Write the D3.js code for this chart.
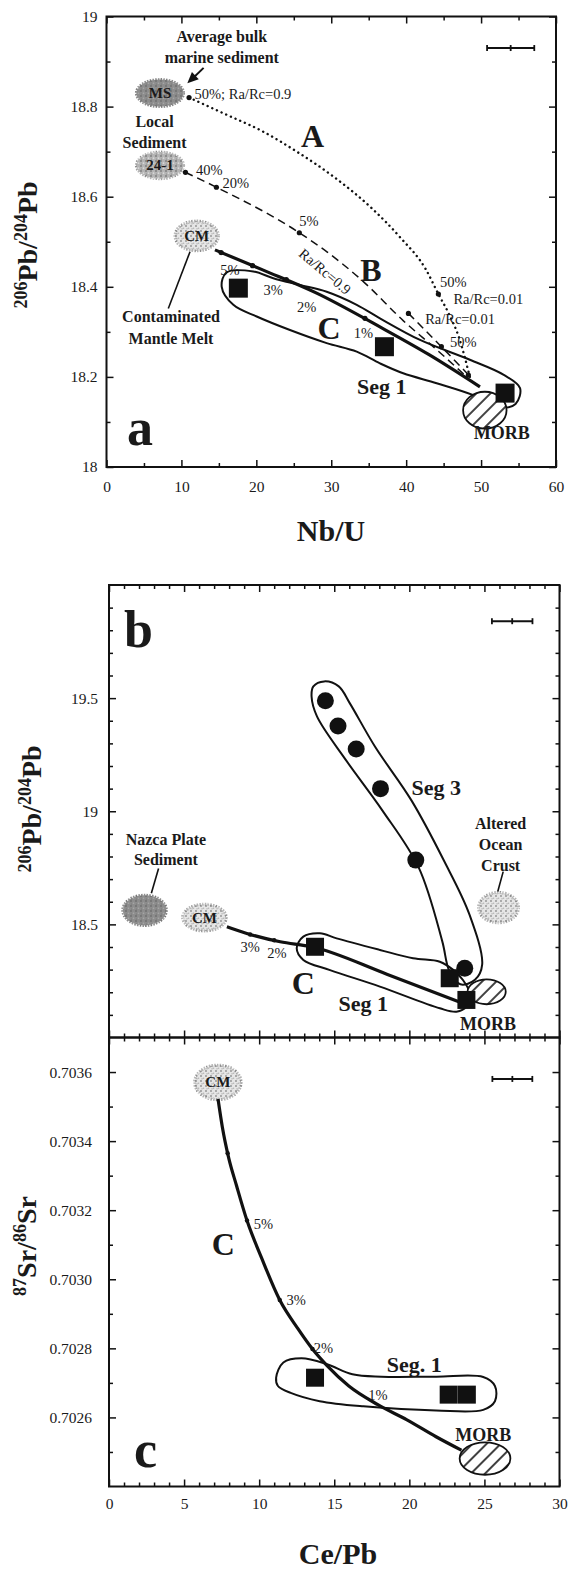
<!DOCTYPE html>
<html>
<head>
<meta charset="utf-8">
<script src="https://cdn.jsdelivr.net/npm/d3@7"></script>
<style>
body { margin: 0; background: #fff; }
text { font-family: "Liberation Serif", "Times New Roman", serif; fill: #1a1a1a; }
.lbl { font-weight: bold; font-size: 16px; }
.fld { font-weight: bold; font-size: 15px; }
.pct { font-size: 14.5px; }
.big { font-weight: bold; font-size: 32px; }
.huge { font-weight: bold; font-size: 52px; }
.seg { font-weight: bold; font-size: 22px; }
.morb { font-weight: bold; font-size: 18px; }
</style>
</head>
<body>
<div class="chart"></div>
<script>
// ---------- panel a : 206Pb/204Pb vs Nb/U ----------
const aXTicks = [0, 10, 20, 30, 40, 50, 60];
const aXMinor = [5, 15, 25, 35, 45, 55];
const aYTicks = [18, 18.2, 18.4, 18.6, 18.8, 19];
const aYLabels = ['18', '18.2', '18.4', '18.6', '18.8', '19'];
const aYMinor = [18.1, 18.3, 18.5, 18.7, 18.9];

const aFields = [
    {label: 'MS', x: [3.99, 10.29], y: [18.80, 18.86]},
    {label: '24-1', x: [3.99, 10.29], y: [18.64, 18.699]},
    {label: 'CM', x: [9.14, 14.94], y: [18.48, 18.546]},
    {label: 'MORB', x: [47.6, 53.4], y: [18.085, 18.167]}
];
const aSquares = [[17.6, 18.397], [37.1, 18.267], [53.2, 18.164]];
const aCurveA = [[11.02, 18.82], [15.88, 18.783], [20.73, 18.746], [25.59, 18.698], [30.43, 18.643],
    [35.3, 18.576], [39.18, 18.51], [42.58, 18.44], [44.3, 18.384], [45.7, 18.34], [47.1, 18.285], [48.5, 18.2]];
const aCurveB = [[10.54, 18.654], [14.67, 18.621], [25.74, 18.52], [29.47, 18.477], [34.32, 18.411],
    [39.6, 18.325], [44.1, 18.26], [48.1, 18.2]];
const aCurveB2 = [[40.3, 18.341], [44.7, 18.267], [48.3, 18.205]];
const aCurveC = [[14.48, 18.482], [20.93, 18.437], [28.05, 18.386], [36.5, 18.311], [43, 18.25], [49.85, 18.178]];
const aDots = [[11.02, 18.82], [44.3, 18.384], [10.54, 18.654], [14.67, 18.621], [25.74, 18.52],
    [40.3, 18.341], [44.7, 18.267], [15.3, 18.476], [19.5, 18.447], [24, 18.416], [34.5, 18.33], [48.3, 18.204]];
const aSeg1 = [[15.38, 18.40], [16.04, 18.432], [19.6, 18.434], [22.26, 18.419], [25.83, 18.404], [29.39, 18.389],
    [33.4, 18.36], [36.5, 18.33], [41.85, 18.282], [48.5, 18.238], [52.97, 18.205], [55.2, 18.175],
    [54.6, 18.14], [52.5, 18.132], [48.88, 18.16], [44.07, 18.186], [39.6, 18.208], [36.5, 18.23],
    [33.4, 18.256], [29.39, 18.275], [24.49, 18.304], [20.05, 18.334], [16.93, 18.36]];
const aErrX = [50.8, 57.1], aErrY = 18.93;
const aPointers = [[[11.15, 18.478], [8.25, 18.352]]];
const aArrow = [[12.96, 18.886], [10.79, 18.852]];
const aText = [
    ['Average bulk', 15.39, 18.956, 'lbl'], ['marine sediment', 15.39, 18.908, 'lbl'],
    ['Local', 6.41, 18.768, 'lbl'], ['Sediment', 6.41, 18.72, 'lbl'],
    ['Contaminated', 8.61, 18.334, 'lbl'], ['Mantle Melt', 8.61, 18.286, 'lbl'],
    ['A', 27.52, 18.735, 'big'], ['B', 35.3, 18.437, 'big'], ['C', 29.7, 18.308, 'big'],
    ['a', 4.47, 18.087, 'huge'], ['Seg 1', 36.75, 18.179, 'seg'], ['MORB', 52.77, 18.076, 'morb'],
    ['5%', 27.03, 18.547, 'pct'], ['5%', 16.48, 18.437, 'pct'], ['3%', 22.26, 18.393, 'pct'],
    ['2%', 26.72, 18.355, 'pct'], ['1%', 34.28, 18.297, 'pct'], ['50%', 46.29, 18.411, 'pct'],
    ['Ra/Rc=0.01', 50.96, 18.372, 'pct'], ['Ra/Rc=0.01', 47.19, 18.328, 'pct'], ['50%', 47.63, 18.278, 'pct']
];
const aTextLeft = [['50%; Ra/Rc=0.9', 11.75, 18.827], ['40%', 11.95, 18.659], ['20%', 15.48, 18.63]];
const aRotText = ['Ra/Rc=0.9', 29.17, 18.434];

// ---------- panel b : 206Pb/204Pb vs Ce/Pb ----------
const ceTicks = [0, 5, 10, 15, 20, 25, 30];
const ceMinor = [1, 2, 3, 4, 6, 7, 8, 9, 11, 12, 13, 14, 16, 17, 18, 19, 21, 22, 23, 24, 26, 27, 28, 29];
const bYTicks = [18.5, 19, 19.5];
const bYLabels = ['18.5', '19', '19.5'];
const bYMinor = [18.1, 18.2, 18.3, 18.4, 18.6, 18.7, 18.8, 18.9, 19.1, 19.2, 19.3, 19.4, 19.6, 19.7, 19.8, 19.9];
const bFields = [
    {label: 'Nazca', x: [0.92, 3.82], y: [18.495, 18.629]},
    {label: 'CM', x: [4.91, 7.81], y: [18.471, 18.589]},
    {label: 'AOC', x: [24.61, 27.27], y: [18.507, 18.641]},
    {label: 'MORB', x: [23.88, 26.42], y: [18.147, 18.257]}
];
const bCircles = [[14.41, 19.488], [15.25, 19.377], [16.46, 19.275], [18.08, 19.1], [20.43, 18.784], [23.69, 18.306]];
const bSquares = [[13.72, 18.401], [22.69, 18.262], [23.8, 18.166]];
const bSeg3 = [[14.33, 19.574], [15.3, 19.552], [16.03, 19.478], [17.72, 19.285], [20.14, 19.048], [22.31, 18.781],
    [24.0, 18.544], [24.85, 18.322], [24.37, 18.255], [23.4, 18.235], [22.67, 18.293], [22.19, 18.426],
    [20.62, 18.752], [18.2, 19.004], [15.78, 19.226], [13.85, 19.419], [13.49, 19.507], [13.61, 19.552]];
const bSeg1 = [[12.5, 18.394], [12.94, 18.446], [14.05, 18.461], [15.16, 18.438], [18.04, 18.387], [20.25, 18.35],
    [22.03, 18.335], [22.9, 18.3], [23.57, 18.254], [24.02, 18.195], [23.8, 18.136], [23.14, 18.114],
    [22.03, 18.129], [18.04, 18.225], [14.72, 18.298], [12.94, 18.343]];
const bCurveC = [[7.85, 18.49], [9.18, 18.46], [11.4, 18.423], [13.5, 18.401], [18.5, 18.28], [23.57, 18.151]];
const bDots = [[9.4, 18.455], [11.0, 18.43]];
const bErrX = [25.5, 28.2], bErrY = 19.84;
const bPointers = [[[3.3, 18.747], [2.82, 18.638]], [[26.25, 18.733], [25.89, 18.645]]];
const bText = [
    ['b', 1.97, 19.803, 'huge'], ['Seg 3', 21.79, 19.107, 'seg'],
    ['Nazca Plate', 3.79, 18.873, 'lbl'], ['Sediment', 3.79, 18.785, 'lbl'],
    ['Altered', 26.08, 18.945, 'lbl'], ['Ocean', 26.08, 18.853, 'lbl'], ['Crust', 26.08, 18.762, 'lbl'],
    ['3%', 9.4, 18.401, 'pct'], ['2%', 11.18, 18.372, 'pct'], ['C', 12.94, 18.24, 'big'],
    ['Seg 1', 16.93, 18.151, 'seg'], ['MORB', 25.24, 18.06, 'morb']
];

// ---------- panel c : 87Sr/86Sr vs Ce/Pb ----------
const cYTicks = [0.7026, 0.7028, 0.7030, 0.7032, 0.7034, 0.7036];
const cYLabels = ['0.7026', '0.7028', '0.7030', '0.7032', '0.7034', '0.7036'];
const cYMinor = [0.7025, 0.7027, 0.7029, 0.7031, 0.7033, 0.7035];
const cFields = [
    {label: 'CM', x: [5.7, 8.8], y: [0.70352, 0.70362]},
    {label: 'MORB', x: [23.35, 26.73], y: [0.702434, 0.702528]}
];
const cSquares = [[13.72, 0.702715], [22.62, 0.702666], [23.83, 0.702666]];
const cCurveC = [[7.26, 0.703522], [7.55, 0.703440], [7.95, 0.703355], [8.5, 0.70327], [9.19, 0.70317],
    [10.16, 0.703062], [11.37, 0.70294], [12.58, 0.702857], [13.55, 0.702798], [14.52, 0.70275],
    [15.97, 0.702691], [17.9, 0.702637], [19.84, 0.702593], [21.78, 0.702544], [23.47, 0.702505]];
const cDots = [[7.9, 0.703365], [9.19, 0.70317], [11.37, 0.70294], [13.55, 0.702798]];
const cSeg1 = [[11.13, 0.702715], [11.61, 0.702759], [12.82, 0.702771], [14.52, 0.702754], [16.21, 0.702725],
    [18.15, 0.702718], [21.78, 0.702718], [24.92, 0.702717], [25.7, 0.702691], [25.7, 0.702647],
    [24.92, 0.702622], [21.78, 0.70262], [16.94, 0.702632], [14.03, 0.702647], [12.1, 0.702671], [11.25, 0.702691]];
const cErrX = [25.53, 28.19], cErrY = 0.70358;
const cText = [
    ['c', 2.43, 0.702506, 'huge'], ['C', 7.62, 0.703102, 'big'], ['Seg. 1', 20.33, 0.702752, 'seg'],
    ['MORB', 24.92, 0.70255, 'morb'], ['5%', 10.29, 0.703161, 'pct'], ['3%', 12.47, 0.702939, 'pct'],
    ['2%', 14.28, 0.702802, 'pct'], ['1%', 17.91, 0.702664, 'pct']
];

const svg = d3.select('.chart').append('svg')
    .attr('width', 570)
    .attr('height', 1573);

// textures
const defs = svg.append('defs');
const hatch = defs.append('pattern').attr('id', 'hatch').attr('patternUnits', 'userSpaceOnUse')
    .attr('width', 10).attr('height', 10).attr('patternTransform', 'rotate(45)');
hatch.append('rect').attr('width', 10).attr('height', 10).attr('fill', '#fff');
hatch.append('line').attr('x1', 5).attr('x2', 5).attr('y1', 0).attr('y2', 10)
    .attr('stroke', '#111').attr('stroke-width', 1.6);

function stipple(id, bg, dots) {
    const p = defs.append('pattern').attr('id', id).attr('patternUnits', 'userSpaceOnUse')
        .attr('width', 5).attr('height', 5);
    p.append('rect').attr('width', 5).attr('height', 5).attr('fill', bg);
    dots.forEach(d => p.append('circle').attr('cx', d[0]).attr('cy', d[1]).attr('r', d[2]).attr('fill', d[3]));
}
stipple('stipDark', '#8d8d8d', [[1, 1, 0.9, '#6d6d6d'], [3.5, 3.2, 0.8, '#a9a9a9'], [1.5, 4, 0.6, '#777']]);
stipple('stipMid', '#b4b4b4', [[1, 1, 0.9, '#7a7a7a'], [3.5, 3.2, 0.9, '#d8d8d8'], [1.6, 4, 0.6, '#8a8a8a']]);
stipple('stipLight', '#e6e6e6', [[1, 1, 0.9, '#8f8f8f'], [3.5, 3.2, 0.8, '#b5b5b5'], [2, 3.8, 0.6, '#9c9c9c']]);

const fieldStyle = {
    'MS': ['url(#stipDark)', 'url(#stipDark)'],
    'Nazca': ['url(#stipDark)', 'url(#stipDark)'],
    '24-1': ['url(#stipMid)', 'url(#stipMid)'],
    'CM': ['url(#stipLight)', 'url(#stipMid)'],
    'AOC': ['url(#stipLight)', 'url(#stipMid)']
};

function panel(cfg) {
    const x = d3.scaleLinear().domain(cfg.xDomain).range(cfg.xRange);
    const y = d3.scaleLinear().domain(cfg.yDomain).range(cfg.yRange);
    const g = svg.append('g');
    const left = cfg.xRange[0], right = cfg.xRange[1];
    const top = cfg.yRange[1], bottom = cfg.yRange[0];

    const axes = g.append('g');
    function put(axis, tr) {
        const a = axes.append('g').attr('transform', tr).call(axis)
            .attr('font-family', '"Liberation Serif", serif').attr('font-size', 15.5);
        a.select('.domain').remove();
        a.selectAll('line').attr('stroke', '#111').attr('stroke-width', 1.5);
        a.selectAll('text').attr('fill', '#1a1a1a');
    }
    // major + minor ticks, inside on all sides
    put(d3.axisBottom(x).tickValues(cfg.xTicks).tickSize(-7).tickPadding(cfg.xPad)
        .tickFormat(cfg.xLabels ? d3.format('d') : ''), `translate(0,${bottom})`);
    put(d3.axisBottom(x).tickValues(cfg.xMinor).tickSize(-4).tickFormat(''), `translate(0,${bottom})`);
    put(d3.axisTop(x).tickValues(cfg.xTicks).tickSize(-7).tickFormat(''), `translate(0,${top})`);
    put(d3.axisTop(x).tickValues(cfg.xMinor).tickSize(-4).tickFormat(''), `translate(0,${top})`);
    put(d3.axisLeft(y).tickValues(cfg.yTicks).tickSize(-7).tickPadding(cfg.yPad)
        .tickFormat((d, i) => cfg.yLabels[i]), `translate(${left},0)`);
    put(d3.axisLeft(y).tickValues(cfg.yMinor).tickSize(-4).tickFormat(''), `translate(${left},0)`);
    put(d3.axisRight(y).tickValues(cfg.yTicks).tickSize(-7).tickFormat(''), `translate(${right},0)`);
    put(d3.axisRight(y).tickValues(cfg.yMinor).tickSize(-4).tickFormat(''), `translate(${right},0)`);

    g.append('rect')
        .attr('x', left).attr('y', top)
        .attr('width', right - left).attr('height', bottom - top)
        .attr('fill', 'none').attr('stroke', '#111').attr('stroke-width', 2);
    return {g, x, y};
}

function fields(p, list, showLabel) {
    list.forEach(f => {
        const cx = p.x((f.x[0] + f.x[1]) / 2), cy = p.y((f.y[0] + f.y[1]) / 2);
        const rx = Math.abs(p.x(f.x[1]) - p.x(f.x[0])) / 2;
        const ry = Math.abs(p.y(f.y[1]) - p.y(f.y[0])) / 2;
        if (f.label === 'MORB') {
            p.g.append('ellipse').attr('cx', cx).attr('cy', cy).attr('rx', rx).attr('ry', ry)
                .attr('fill', 'url(#hatch)').attr('stroke', '#111').attr('stroke-width', 1.8);
            return;
        }
        const st = fieldStyle[f.label];
        p.g.append('ellipse').attr('cx', cx).attr('cy', cy).attr('rx', rx).attr('ry', ry)
            .attr('fill', st[0]).attr('stroke', st[1]).attr('stroke-width', 3)
            .attr('stroke-dasharray', '1.5,1.2');
        if (showLabel.includes(f.label)) {
            p.g.append('text').attr('class', 'fld').attr('x', cx).attr('y', cy)
                .attr('text-anchor', 'middle').attr('dominant-baseline', 'central').text(f.label);
        }
    });
}

function path(p, pts, width, dash, closed) {
    const line = d3.line().x(d => p.x(d[0])).y(d => p.y(d[1]))
        .curve(closed ? d3.curveCatmullRomClosed.alpha(0.5) : d3.curveMonotoneX);
    p.g.append('path').attr('d', line(pts)).attr('fill', 'none')
        .attr('stroke', '#111').attr('stroke-width', width)
        .attr('stroke-dasharray', dash || null)
        .attr('stroke-linecap', dash === '0.1,5' ? 'round' : 'butt');
}

function squares(p, list, s) {
    p.g.selectAll(null).data(list).enter().append('rect')
        .attr('x', d => p.x(d[0]) - s / 2).attr('y', d => p.y(d[1]) - s / 2)
        .attr('width', s).attr('height', s).attr('fill', '#111');
}

function dots(p, list, r) {
    p.g.selectAll(null).data(list).enter().append('circle')
        .attr('cx', d => p.x(d[0])).attr('cy', d => p.y(d[1])).attr('r', r).attr('fill', '#111');
}

function texts(p, list, anchor) {
    p.g.selectAll(null).data(list).enter().append('text')
        .attr('class', d => d[3] || 'pct')
        .attr('x', d => p.x(d[1])).attr('y', d => p.y(d[2]))
        .attr('text-anchor', anchor).attr('dominant-baseline', 'central')
        .text(d => d[0]);
}

function errBar(p, xs, yv) {
    const y0 = p.y(yv), x0 = p.x(xs[0]), x1 = p.x(xs[1]);
    p.g.append('line').attr('x1', x0).attr('x2', x1).attr('y1', y0).attr('y2', y0)
        .attr('stroke', '#111').attr('stroke-width', 2);
    [x0, (x0 + x1) / 2, x1].forEach(v => p.g.append('line').attr('x1', v).attr('x2', v)
        .attr('y1', y0 - 3).attr('y2', y0 + 3).attr('stroke', '#111').attr('stroke-width', 1.8));
}

function pointers(p, list) {
    list.forEach(l => p.g.append('line')
        .attr('x1', p.x(l[0][0])).attr('y1', p.y(l[0][1]))
        .attr('x2', p.x(l[1][0])).attr('y2', p.y(l[1][1]))
        .attr('stroke', '#111').attr('stroke-width', 1.6));
}

function yTitle(xp, yp, parts) {
    const t = svg.append('text').attr('transform', `translate(${xp},${yp}) rotate(-90)`)
        .attr('text-anchor', 'middle').attr('font-weight', 'bold').attr('font-size', 28);
    let sup = false;
    parts.forEach(s => {
        const isSup = /^\d+$/.test(s);
        const ts = t.append('tspan').text(s).attr('font-size', isSup ? 18 : 28);
        if (isSup && !sup) ts.attr('dy', -10);
        if (!isSup && sup) ts.attr('dy', 10);
        sup = isSup;
    });
}

function xTitle(xp, yp, s) {
    svg.append('text').attr('x', xp).attr('y', yp).attr('text-anchor', 'middle')
        .attr('font-weight', 'bold').attr('font-size', 30).text(s);
}

// ---------- draw a ----------
const pa = panel({xDomain: [0, 60], xRange: [106.5, 556], yDomain: [18, 19], yRange: [467, 16.5],
    xTicks: aXTicks, xMinor: aXMinor, yTicks: aYTicks, yMinor: aYMinor, yLabels: aYLabels,
    xLabels: true, xPad: 14, yPad: 9});
path(pa, aSeg1, 2, null, true);
fields(pa, aFields, ['MS', '24-1', 'CM']);
path(pa, aCurveA, 2.4, '0.1,5');
path(pa, aCurveB, 1.5, '8,5');
path(pa, aCurveB2, 1.5, '8,5');
path(pa, aCurveC, 3.2);
dots(pa, aDots, 2.6);
squares(pa, aSquares, 19);
pointers(pa, aPointers);
// arrow to MS
const ah = aArrow.map(d => [pa.x(d[0]), pa.y(d[1])]);
pa.g.append('line').attr('x1', ah[0][0]).attr('y1', ah[0][1]).attr('x2', ah[1][0] + 5).attr('y2', ah[1][1] - 4.5)
    .attr('stroke', '#111').attr('stroke-width', 2);
const ang = Math.atan2(ah[1][1] - ah[0][1], ah[1][0] - ah[0][0]) * 180 / Math.PI;
pa.g.append('path').attr('d', 'M0,0 L-11,-5 L-11,5 Z').attr('fill', '#111')
    .attr('transform', `translate(${ah[1][0]},${ah[1][1]}) rotate(${ang})`);
texts(pa, aText, 'middle');
texts(pa, aTextLeft, 'start');
pa.g.append('text').attr('class', 'pct')
    .attr('transform', `translate(${pa.x(aRotText[1])},${pa.y(aRotText[2])}) rotate(40)`)
    .attr('text-anchor', 'middle').attr('dominant-baseline', 'central').text(aRotText[0]);
errBar(pa, aErrX, aErrY);
yTitle(37, 245, ['206', 'Pb/', '204', 'Pb']);
xTitle(331, 541, 'Nb/U');

// ---------- draw b ----------
const pb = panel({xDomain: [0, 30], xRange: [109, 559.5], yDomain: [18, 20], yRange: [1037.5, 585],
    xTicks: ceTicks, xMinor: ceMinor, yTicks: bYTicks, yMinor: bYMinor, yLabels: bYLabels,
    xLabels: false, xPad: 10, yPad: 11});
path(pb, bSeg3, 2, null, true);
path(pb, bSeg1, 2, null, true);
fields(pb, bFields, ['CM']);
path(pb, bCurveC, 3.2);
dots(pb, bDots, 2.2);
pb.g.selectAll(null).data(bCircles).enter().append('circle')
    .attr('cx', d => pb.x(d[0])).attr('cy', d => pb.y(d[1])).attr('r', 8.5).attr('fill', '#111');
squares(pb, bSquares, 18);
pointers(pb, bPointers);
texts(pb, bText, 'middle');
errBar(pb, bErrX, bErrY);
yTitle(41, 809, ['206', 'Pb/', '204', 'Pb']);

// ---------- draw c ----------
const pc = panel({xDomain: [0, 30], xRange: [109, 559.5], yDomain: [0.7024, 0.7037], yRange: [1486.5, 1037.5],
    xTicks: ceTicks, xMinor: ceMinor, yTicks: cYTicks, yMinor: cYMinor, yLabels: cYLabels,
    xLabels: true, xPad: 11, yPad: 17});
path(pc, cSeg1, 2, null, true);
fields(pc, cFields, ['CM']);
path(pc, cCurveC, 3.2);
dots(pc, cDots, 2.2);
squares(pc, cSquares, 18);
texts(pc, cText, 'middle');
errBar(pc, cErrX, cErrY);
yTitle(36, 1246, ['87', 'Sr/', '86', 'Sr']);
xTitle(338, 1564, 'Ce/Pb');
</script>
</body>
</html>
